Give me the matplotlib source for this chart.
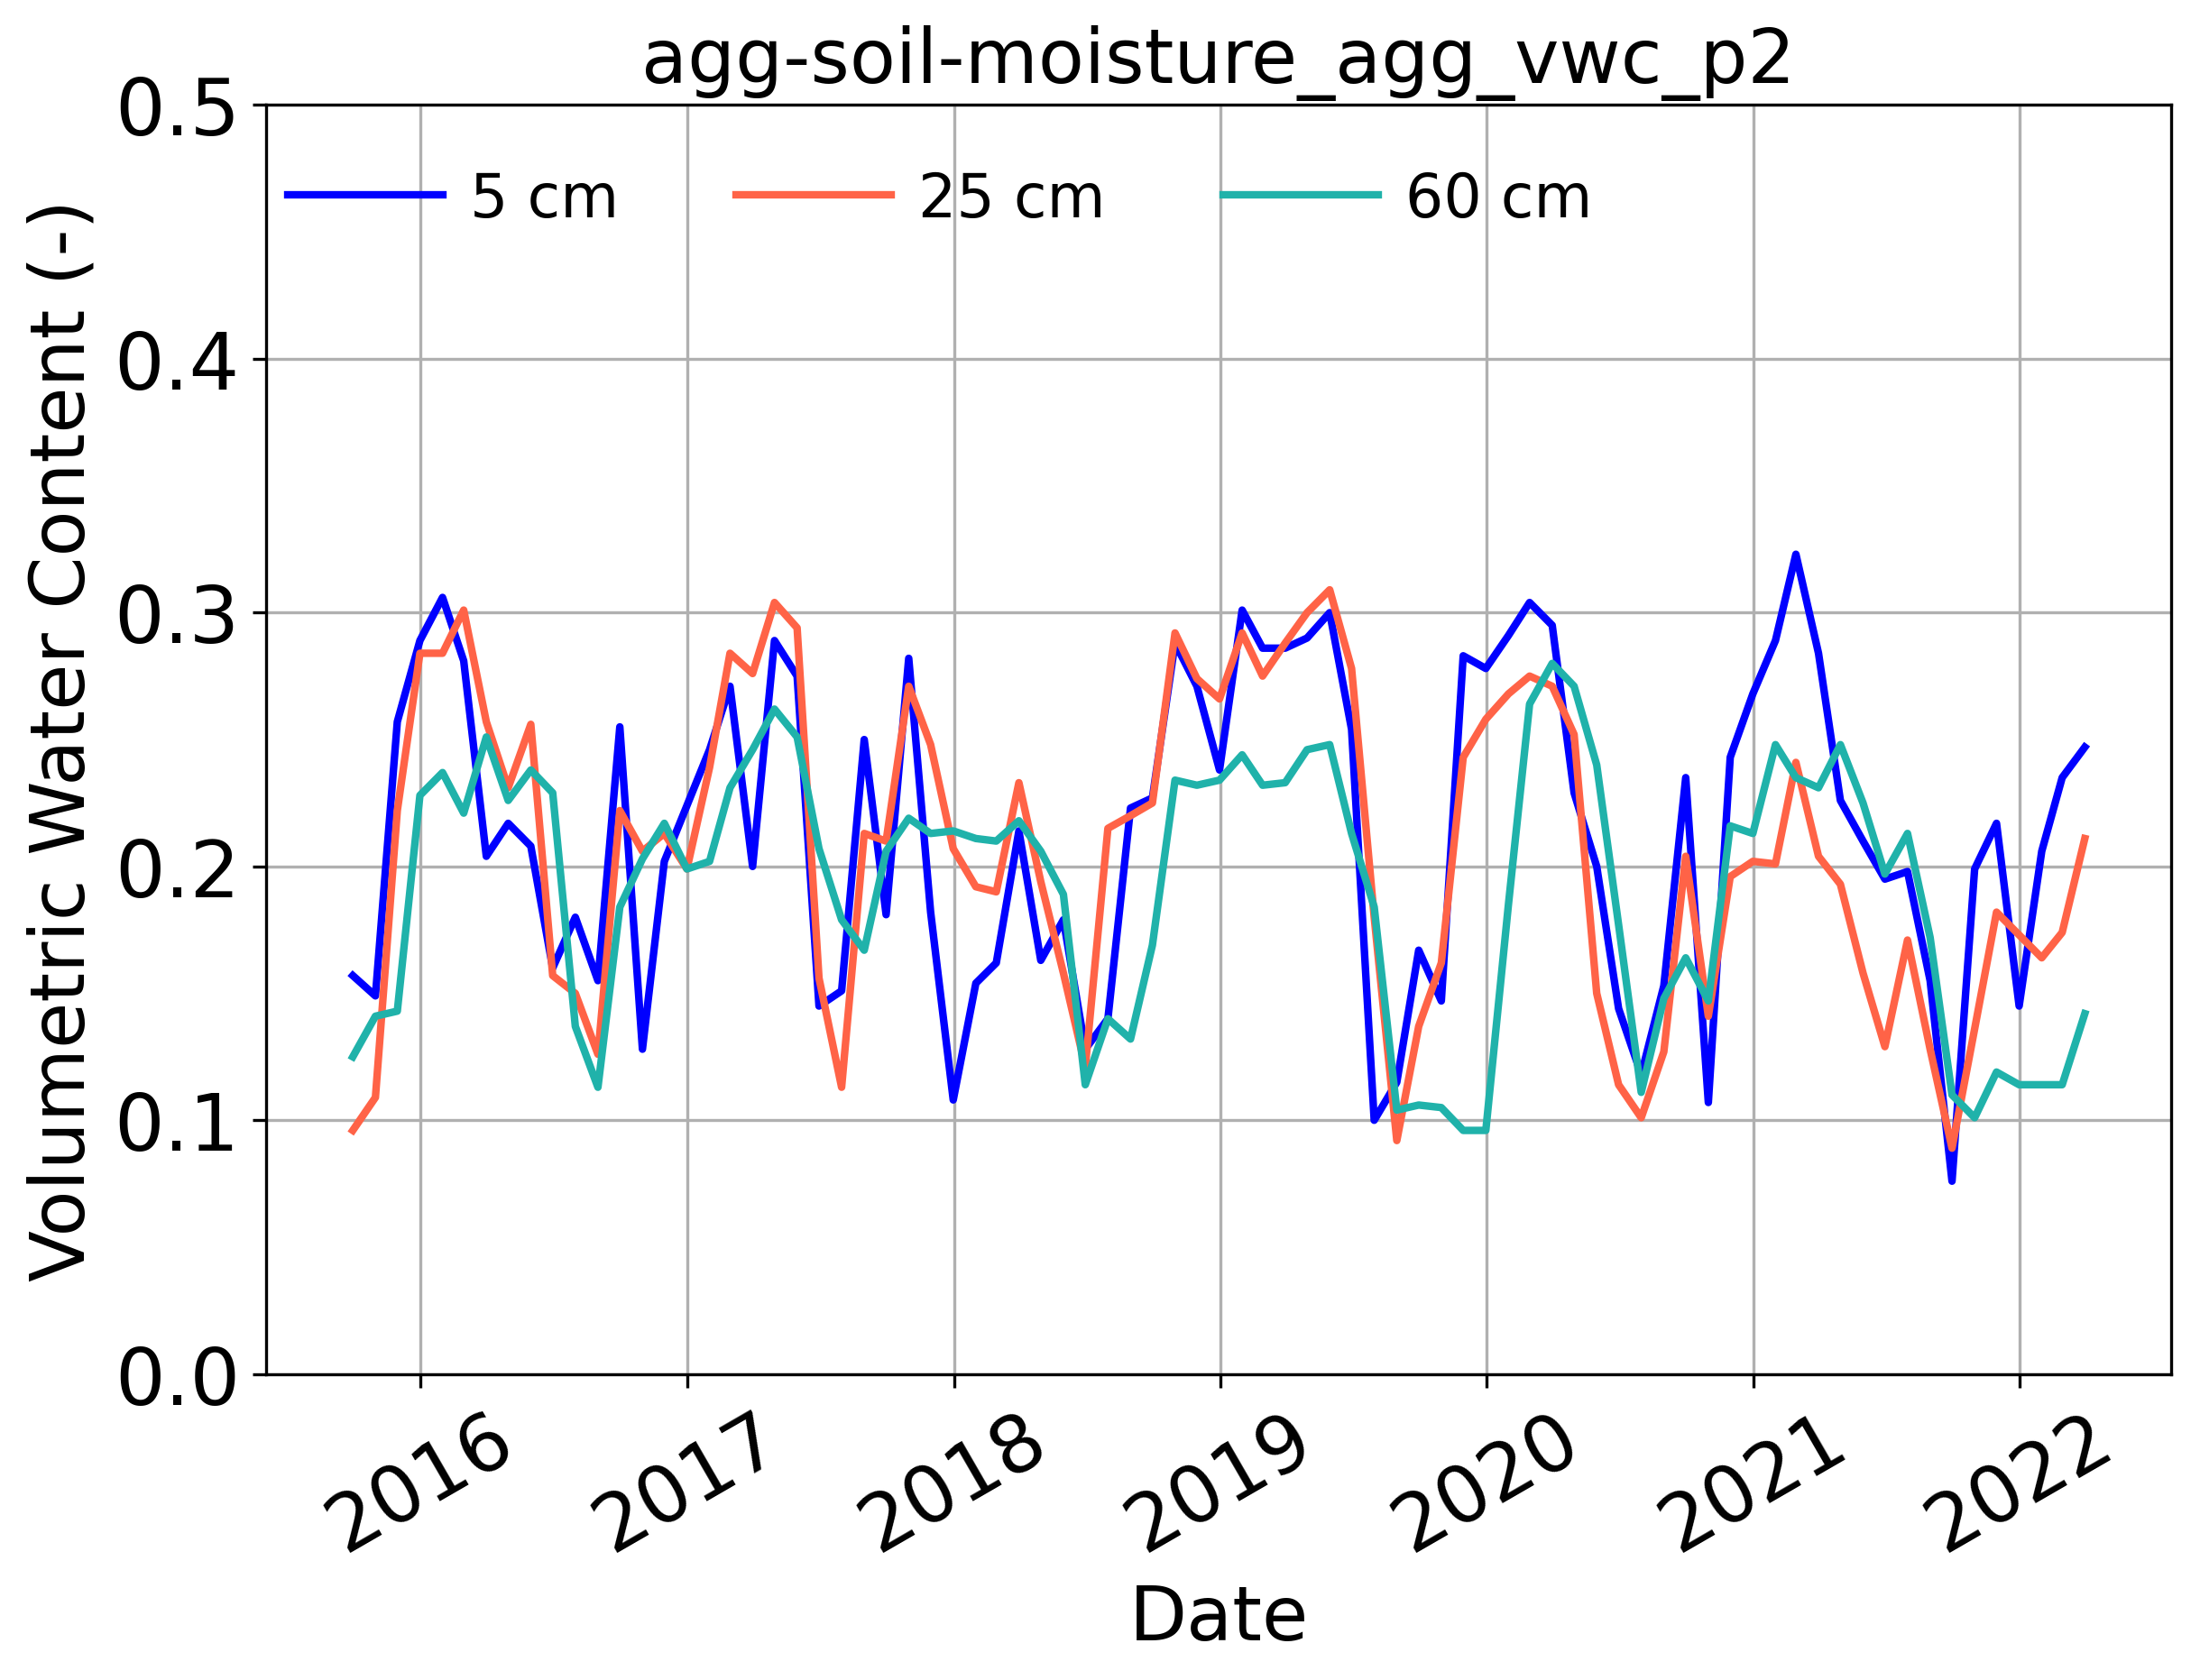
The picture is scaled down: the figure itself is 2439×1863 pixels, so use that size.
import matplotlib
matplotlib.use("Agg")
import matplotlib.pyplot as plt
import matplotlib.dates as mdates
import numpy as np
import pandas as pd

# monthly aggregated soil moisture, plot p2
dates = pd.date_range("2015-09-30", periods=79, freq="ME")

vwc_5cm = [0.157, 0.149, 0.257, 0.289, 0.306, 0.281, 0.204, 0.217, 0.208, 0.160, 0.180, 0.155, 0.255, 0.128,
           0.202, 0.224, 0.246, 0.271, 0.200, 0.289, 0.275, 0.145, 0.151, 0.250, 0.181, 0.282, 0.182, 0.108,
           0.154, 0.162, 0.214, 0.163, 0.179, 0.128, 0.140, 0.223, 0.227, 0.288, 0.271, 0.238, 0.301,
           0.286, 0.286, 0.290, 0.300, 0.254, 0.100, 0.115, 0.167, 0.147, 0.283, 0.278, 0.291, 0.304,
           0.295, 0.229, 0.200, 0.144, 0.118, 0.153, 0.235, 0.107, 0.243, 0.268, 0.289, 0.323, 0.284, 0.226,
           0.210, 0.195, 0.198, 0.155, 0.076, 0.199, 0.217, 0.145, 0.206, 0.235, 0.247]

vwc_25cm = [0.096, 0.109, 0.222, 0.284, 0.284, 0.301, 0.257, 0.231, 0.256, 0.157, 0.150, 0.126, 0.222, 0.206,
            0.213, 0.199, 0.239, 0.284, 0.276, 0.304, 0.294, 0.156, 0.113, 0.213, 0.210, 0.271, 0.248, 0.207,
            0.192, 0.190, 0.233, 0.194, 0.158, 0.121, 0.215, 0.220, 0.225, 0.292, 0.274, 0.266, 0.292,
            0.275, 0.288, 0.300, 0.309, 0.278, 0.180, 0.092, 0.137, 0.162, 0.243, 0.258, 0.268, 0.275,
            0.271, 0.252, 0.150, 0.114, 0.101, 0.127, 0.204, 0.141, 0.196, 0.202, 0.201, 0.241, 0.204, 0.193,
            0.158, 0.129, 0.171, 0.128, 0.089, 0.136, 0.182, 0.173, 0.164, 0.174, 0.211]

vwc_60cm = [0.125, 0.141, 0.143, 0.228, 0.237, 0.221, 0.251, 0.226, 0.238, 0.229, 0.137, 0.113, 0.184, 0.203,
            0.217, 0.199, 0.202, 0.231, 0.246, 0.262, 0.251, 0.207, 0.179, 0.167, 0.206, 0.219, 0.213, 0.214,
            0.211, 0.210, 0.218, 0.206, 0.189, 0.114, 0.140, 0.132, 0.169, 0.234, 0.232, 0.234, 0.244,
            0.232, 0.233, 0.246, 0.248, 0.213, 0.184, 0.104, 0.106, 0.105, 0.096, 0.096, 0.185, 0.264,
            0.280, 0.271, 0.240, 0.177, 0.111, 0.148, 0.164, 0.147, 0.216, 0.213, 0.248, 0.235, 0.231, 0.248,
            0.225, 0.197, 0.213, 0.172, 0.110, 0.101, 0.119, 0.114, 0.114, 0.114, 0.142]

fig, ax = plt.subplots(figsize=(8.13, 6.2133), dpi=300)
fig.subplots_adjust(left=0.121, right=0.987, top=0.937, bottom=0.182)

ax.plot(dates, vwc_5cm, color="blue", lw=2, label="5 cm")
ax.plot(dates, vwc_25cm, color="tomato", lw=2, label="25 cm")
ax.plot(dates, vwc_60cm, color="lightseagreen", lw=2, label="60 cm")

ax.set_ylim(0, 0.5)
ax.set_yticks(np.arange(0, 0.51, 0.1))
ax.xaxis.set_major_locator(mdates.YearLocator())
ax.xaxis.set_major_formatter(mdates.DateFormatter("%Y"))
ax.tick_params(axis="both", labelsize=21)
plt.setp(ax.get_xticklabels(), rotation=30)
ax.grid(True)

ax.set_title("agg-soil-moisture_agg_vwc_p2", fontsize=20)
ax.set_xlabel("Date", fontsize=20)
ax.set_ylabel("Volumetric Water Content (-)", fontsize=20)
ax.legend(loc="upper left", ncol=3, frameon=False, fontsize=16,
          handlelength=2.58, handletextpad=0.45, columnspacing=1.95,
          bbox_to_anchor=(-0.017, 0.992))

fig.savefig("out.png", dpi=300)
